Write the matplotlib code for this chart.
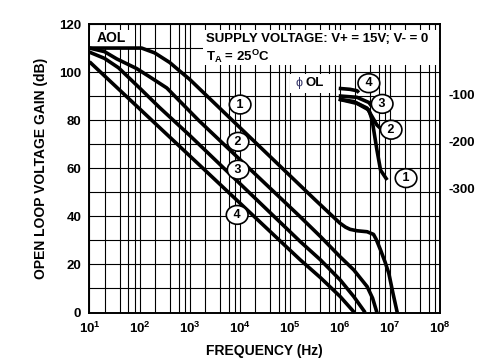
import matplotlib
matplotlib.use("Agg")
import matplotlib.pyplot as plt
from matplotlib.patches import Rectangle
from matplotlib.ticker import FixedLocator, FixedFormatter, LogLocator, NullFormatter

plt.rcParams['font.family'] = ['Liberation Sans', 'DejaVu Sans']
plt.rcParams['font.weight'] = 'bold'
plt.rcParams['axes.unicode_minus'] = False
plt.rcParams['mathtext.fontset'] = 'custom'
plt.rcParams['mathtext.rm'] = 'Liberation Sans:bold'
plt.rcParams['mathtext.it'] = 'Liberation Sans:bold'
plt.rcParams['mathtext.bf'] = 'Liberation Sans:bold'
plt.rcParams['mathtext.default'] = 'rm'

# open loop gain (dB) vs frequency (Hz), curves 1..4
gain1_f = [10, 110, 200, 400, 630, 1e3, 3.2e5, 1e6, 1.3e6, 1.6e6, 2.2e6, 3.5e6, 4.7e6, 5.3e6, 6.5e6, 8e6, 9.5e6, 1.15e7, 1.4e7]
gain1_db = [110, 110, 108, 104, 100.5, 97, 46.9, 37.2, 35.5, 34.6, 34.0, 33.6, 32.5, 30.5, 26, 21, 16.3, 8, 0]

gain2_f = [10, 20, 35, 87, 160, 350, 1.5e3, 1.6e5, 4.1e5, 1e6, 1.9e6, 3.5e6, 4.5e6, 5.5e6]
gain2_db = [110, 108.5, 105.5, 101.5, 98, 93.4, 80, 39.9, 31.6, 23.3, 17.7, 10.8, 6, 0]

gain3_f = [10, 20, 38, 100, 250, 1e3, 1.62e5, 4.1e5, 1.02e6, 1.9e6, 3.2e6]
gain3_db = [108.3, 105.7, 101.8, 93.4, 85.3, 73.7, 29.5, 21.9, 13.5, 6.6, 0]

gain4_f = [10, 1e3, 1e5, 1.62e5, 4.1e5, 1.02e6, 1.95e6]
gain4_db = [104.3, 65.2, 26.0, 21.9, 14.5, 6.6, 0]

# open loop phase (degrees)
phase1_f = [9.5e5, 2.2e6, 3.8e6, 4.4e6, 5.5e6, 6.5e6, 8.8e6]
phase1_deg = [-109, -118, -132, -153, -217, -260, -281]
phase2_f = [9.5e5, 1.9e6, 3.5e6, 4.4e6, 5.5e6, 6.5e6]
phase2_deg = [-109, -114, -128, -146, -164, -171]
phase3_f = [9.5e5, 2.2e6, 3.8e6, 4.4e6]
phase3_deg = [-102, -105, -116, -125]
phase4_f = [9.5e5, 1.6e6, 2.2e6, 2.4e6]
phase4_deg = [-86, -88, -91, -95]

curve_names = ['1', '2', '3', '4']
gain_label_f = [1.02e4, 9.3e3, 9.3e3, 8.9e3]
gain_label_db = [86.5, 71, 59.4, 40.6]
phase_label_f = [2.1e7, 1.06e7, 7.0e6, 3.8e6]
phase_label_deg = [-277, -174, -119, -75]

x_tick_vals = [1e1, 1e2, 1e3, 1e4, 1e5, 1e6, 1e7, 1e8]
x_tick_text = [r'$10^{%d}$' % k for k in range(1, 9)]
y_tick_vals = [0, 20, 40, 60, 80, 100, 120]
phase_tick_vals = [-100, -200, -300]

fig = plt.figure(figsize=(4.78, 3.59), dpi=100)
ax = fig.add_axes([0.1872, 0.1295, 0.7333, 0.8036])

ax.set_xscale('log')
ax.set_xlim(10, 1e8)
ax.set_ylim(0, 120)
ax.xaxis.set_major_locator(FixedLocator(x_tick_vals))
ax.xaxis.set_major_formatter(FixedFormatter(x_tick_text))
ax.xaxis.set_minor_locator(LogLocator(base=10, subs=[2, 4, 6, 8]))
ax.xaxis.set_minor_formatter(NullFormatter())
ax.set_yticks(y_tick_vals)
ax.set_yticks(range(10, 120, 20), minor=True)
ax.tick_params(which='both', length=0, labelsize=9.5)
ax.tick_params(axis='x', pad=6)
ax.tick_params(axis='y', pad=6)
ax.set_axisbelow(True)
ax.grid(which='both', color='black', linewidth=0.8)
for s in ax.spines.values():
    s.set_linewidth(1.2)

ax.set_xlabel('FREQUENCY (Hz)', fontsize=10, fontweight='bold', labelpad=6)
ax.set_ylabel('OPEN LOOP VOLTAGE GAIN (dB)', fontsize=10, fontweight='bold', labelpad=8)

# white boxes behind the annotations
ax.add_patch(Rectangle((0.002, 0.920), 0.128, 0.059, transform=ax.transAxes,
                       facecolor='white', edgecolor='none', zorder=1))
ax.add_patch(Rectangle((0.324, 0.858), 0.674, 0.121, transform=ax.transAxes,
                       facecolor='white', edgecolor='none', zorder=1))
ax.add_patch(Rectangle((0.572, 0.762), 0.123, 0.066, transform=ax.transAxes,
                       facecolor='white', edgecolor='none', zorder=1))

ax.text(0.021, 0.951, 'AOL', transform=ax.transAxes, fontsize=10,
        fontweight='bold', va='center', ha='left', zorder=4)
ax.text(0.331, 0.947, 'SUPPLY VOLTAGE: V+ = 15V; V- = 0', transform=ax.transAxes,
        fontsize=9.5, fontweight='bold', va='center', ha='left', zorder=4)
ax.text(0.331, 0.888, r'$T_A$ = 25$^O$C', transform=ax.transAxes,
        fontsize=9.5, fontweight='bold', va='center', ha='left', zorder=4)
ax.text(0.589, 0.796, 'ϕ', transform=ax.transAxes, fontsize=9,
        fontweight='normal', color='#333366', va='center', ha='left', zorder=4)
ax.text(0.617, 0.796, 'OL', transform=ax.transAxes, fontsize=9.5,
        fontweight='bold', va='center', ha='left', zorder=4)

lw = 2.6
ax.plot(gain1_f, gain1_db, color='black', lw=lw, zorder=2, solid_capstyle='butt')
ax.plot(gain2_f, gain2_db, color='black', lw=lw, zorder=2, solid_capstyle='butt')
ax.plot(gain3_f, gain3_db, color='black', lw=lw, zorder=2, solid_capstyle='butt')
ax.plot(gain4_f, gain4_db, color='black', lw=lw, zorder=2, solid_capstyle='butt')

circle = dict(boxstyle='ellipse,pad=0.05', facecolor='white', edgecolor='black', linewidth=1.2)
for name, f, g in zip(curve_names, gain_label_f, gain_label_db):
    ax.text(f, g, ' ' + name + ' ', fontsize=9, fontweight='bold', ha='center',
            va='center', bbox=circle, zorder=5)

ax2 = ax.twinx()
ax2.set_ylim(-563, 51)
ax2.set_yticks(phase_tick_vals)
ax2.tick_params(length=0, labelsize=9.5, pad=6)
for s in ax2.spines.values():
    s.set_linewidth(1.2)
ax2.plot(phase1_f, phase1_deg, color='black', lw=lw, solid_capstyle='butt')
ax2.plot(phase2_f, phase2_deg, color='black', lw=lw, solid_capstyle='butt')
ax2.plot(phase3_f, phase3_deg, color='black', lw=lw, solid_capstyle='butt')
ax2.plot(phase4_f, phase4_deg, color='black', lw=lw, solid_capstyle='butt')
for name, f, p in zip(curve_names, phase_label_f, phase_label_deg):
    ax2.text(f, p, ' ' + name + ' ', fontsize=9, fontweight='bold', ha='center',
             va='center', bbox=circle, zorder=5)

fig.savefig('out.png', dpi=100)
